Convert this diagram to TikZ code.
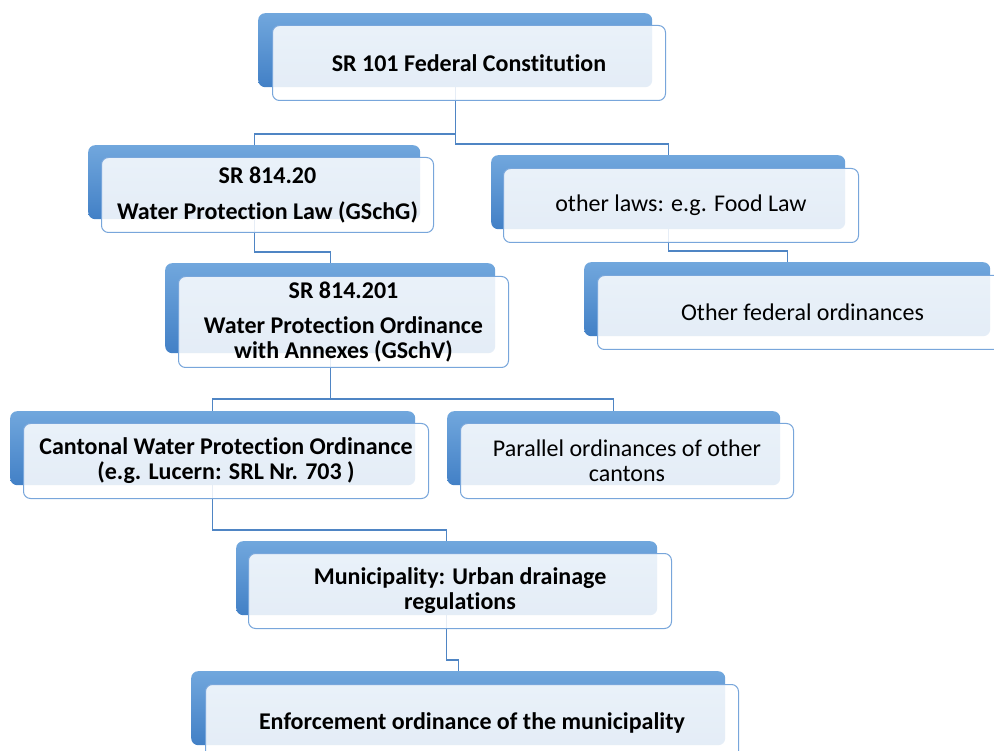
\documentclass[tikz,border=0pt]{standalone}
\usepackage{fontspec}
\setmainfont[Ligatures=NoCommon]{Carlito}
\usetikzlibrary{calc}
\pgfdeclarelayer{bg}
\pgfsetlayers{bg,main}
\definecolor{tabtop}{RGB}{113,167,221}
\definecolor{tabbot}{RGB}{66,128,198}
\definecolor{boxline}{RGB}{120,166,219}
\definecolor{connline}{RGB}{79,133,196}
\tikzset{
 tabbox/.style={rectangle, rounded corners=7pt, top color=tabtop, bottom color=tabbot, draw=none, inner sep=0pt, anchor=north west},
 frontbox/.style={rectangle, rounded corners=7pt, draw=boxline, line width=1pt, fill=white, fill opacity=0.86, text opacity=1, inner sep=0pt, align=center, anchor=north west, font=\fontsize{24}{25}\selectfont},
 conn/.style={draw=connline, line width=1.3pt},
}
\begin{document}
\begin{tikzpicture}[x=1pt,y=-1pt]
\useasboundingbox (0,0) rectangle (994,751);
\clip (0,0) rectangle (994,751);
% Box 1
\node[tabbox, minimum width=394pt, minimum height=74pt] (t1) at (258,13) {};
\node[frontbox, minimum width=393pt, minimum height=75pt] (f1) at (272,25) {\bfseries SR 101 Federal Constitution};
% Box 2
\node[tabbox, minimum width=332pt, minimum height=74pt] (t2) at (88,145) {};
\node[frontbox, minimum width=332pt, minimum height=75pt] (f2) at (101,157) {\bfseries SR 814.20\\[11pt]\bfseries Water Protection Law (GSchG)};
% Box 3
\node[tabbox, minimum width=354pt, minimum height=74pt] (t3) at (491,155) {};
\node[frontbox, minimum width=355pt, minimum height=74pt] (f3) at (503,168) {other laws: e.g. Food Law};
% Box 4
\node[tabbox, minimum width=406pt, minimum height=74pt] (t4) at (584,262) {};
\node[frontbox, minimum width=410pt, minimum height=74pt] (f4) at (597,275) {Other federal ordinances};
% Box 5
\node[tabbox, minimum width=330pt, minimum height=90pt] (t5) at (165,263) {};
\node[frontbox, minimum width=330pt, minimum height=91pt] (f5) at (178,276) {\bfseries SR 814.201\\[10pt]\bfseries Water Protection Ordinance\\\bfseries with Annexes (GSchV)};
% Box 6
\node[tabbox, minimum width=405pt, minimum height=74pt] (t6) at (10,411) {};
\node[frontbox, minimum width=405pt, minimum height=75pt] (f6) at (23,423) {\bfseries Cantonal Water Protection Ordinance\\\bfseries (e.g. Lucern: SRL Nr. 703 )};
% Box 7
\node[tabbox, minimum width=333pt, minimum height=74pt] (t7) at (447,411) {};
\node[frontbox, minimum width=333pt, minimum height=75pt] (f7) at (460,423) {Parallel ordinances of other\\cantons};
% Box 8
\node[tabbox, minimum width=421pt, minimum height=74pt] (t8) at (236,541) {};
\node[frontbox, minimum width=423pt, minimum height=75pt] (f8) at (248,553) {\bfseries Municipality: Urban drainage\\\bfseries regulations};
% Box 9
\node[tabbox, minimum width=534pt, minimum height=74pt] (t9) at (191,671) {};
\node[frontbox, minimum width=533pt, minimum height=76pt] (f9) at (205,684) {\bfseries Enforcement ordinance of the municipality};
% elbow levels
\coordinate (e12) at (0,134);
\coordinate (e13) at (0,144);
\coordinate (e25) at (0,252);
\coordinate (e34) at (0,251);
\coordinate (e56) at (0,399);
\coordinate (e68) at (0,530);
\coordinate (e89) at (0,660);
\begin{pgfonlayer}{bg}
\draw[conn] (t1.center) -- (t1.center |- e12) -| (t2.center);
\draw[conn] (t1.center) -- (t1.center |- e13) -| (t3.center);
\draw[conn] (t2.center) -- (t2.center |- e25) -| (t5.center);
\draw[conn] (t3.center) -- (t3.center |- e34) -| (t4.center);
\draw[conn] (t5.center) -- (t5.center |- e56) -| (t6.center);
\draw[conn] (t5.center) -- (t5.center |- e56) -| (t7.center);
\draw[conn] (t6.center) -- (t6.center |- e68) -| (t8.center);
\draw[conn] (t8.center) -- (t8.center |- e89) -| (t9.center);
\end{pgfonlayer}
\end{tikzpicture}
\end{document}
